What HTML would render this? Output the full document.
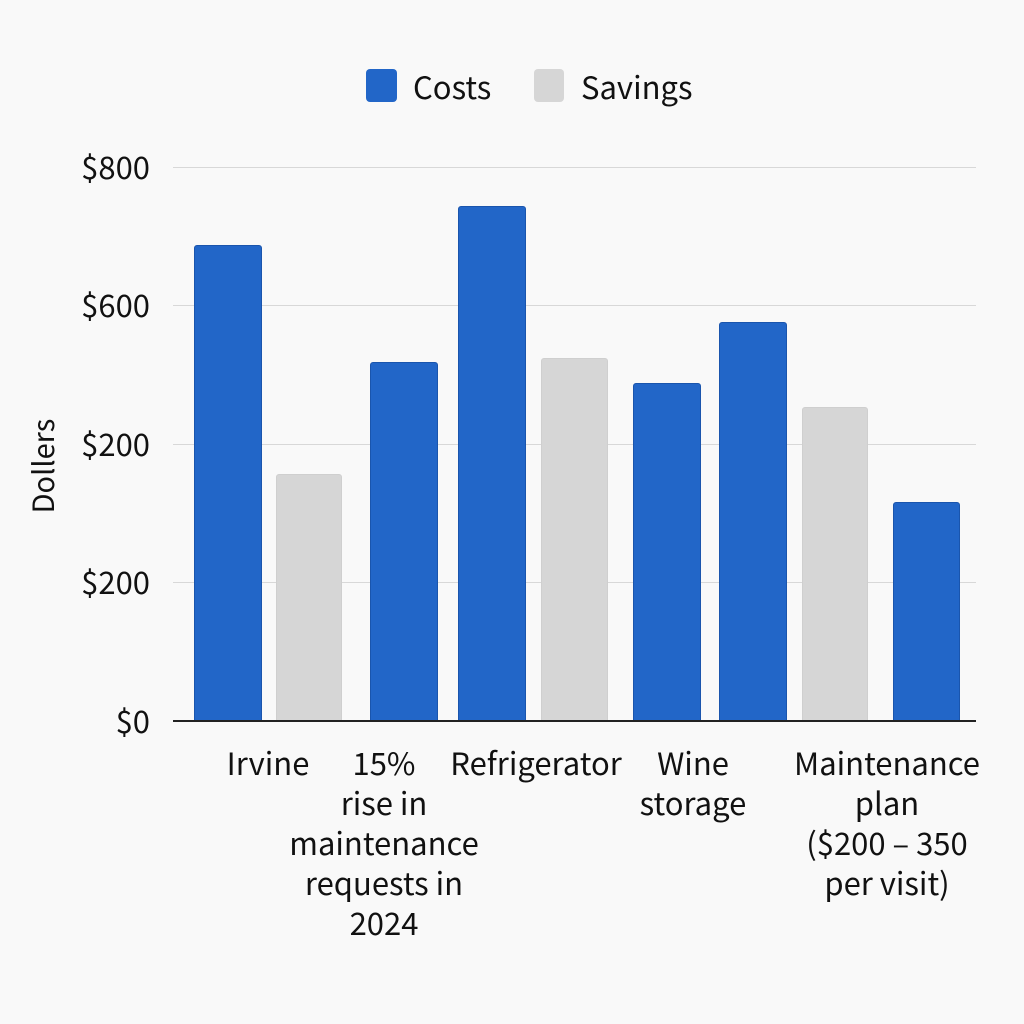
<!DOCTYPE html>
<html><head><meta charset="utf-8"><style>
html,body{margin:0;padding:0;background:#f9f9f9;}
body{width:1024px;height:1024px;position:relative;overflow:hidden;font-family:"Noto Sans CJK JP","Liberation Sans",sans-serif;color:#111;}
.g{position:absolute;left:173px;width:803px;height:1px;background:#d8d8d8;}
.b{position:absolute;box-sizing:border-box;border-radius:3px 3px 0 0;}
.c{background:#2266c8;border:1px solid #1a55ad;}
.s{background:#d6d6d6;border:1px solid #cfcfcf;}
.y{position:absolute;right:874px;font-size:31px;line-height:30px;}
.x{position:absolute;font-size:31px;line-height:40px;text-align:center;width:240px;}
</style></head><body>
<div style="position:absolute;left:366px;top:69px;width:31px;height:33px;background:#2266c8;border-radius:4px;"></div>
<div style="position:absolute;left:413px;top:66px;font-size:31px;line-height:40px;">Costs</div>
<div style="position:absolute;left:534px;top:69px;width:30px;height:33px;background:#d6d6d6;border-radius:4px;"></div>
<div style="position:absolute;left:581px;top:66px;font-size:31px;line-height:40px;">Savings</div>

<div class="g" style="top:167px"></div>
<div class="g" style="top:305px"></div>
<div class="g" style="top:444px"></div>
<div class="g" style="top:582px"></div>

<div class="y" style="top:151px">$800</div>
<div class="y" style="top:289px">$600</div>
<div class="y" style="top:428px">$200</div>
<div class="y" style="top:566px">$200</div>
<div class="y" style="top:705px">$0</div>
<div style="position:absolute;left:42px;top:466px;transform:translate(-50%,-50%) rotate(-90deg);font-size:29px;line-height:30px;white-space:nowrap;">Dollers</div>

<div class="b c" style="left:194px;top:245px;width:68px;height:476px"></div>
<div class="b s" style="left:276px;top:474px;width:66px;height:247px"></div>
<div class="b c" style="left:370px;top:362px;width:68px;height:359px"></div>
<div class="b c" style="left:458px;top:206px;width:68px;height:515px"></div>
<div class="b s" style="left:541px;top:358px;width:67px;height:363px"></div>
<div class="b c" style="left:633px;top:383px;width:68px;height:338px"></div>
<div class="b c" style="left:719px;top:322px;width:68px;height:399px"></div>
<div class="b s" style="left:802px;top:407px;width:66px;height:314px"></div>
<div class="b c" style="left:893px;top:502px;width:67px;height:219px"></div>

<div style="position:absolute;left:173px;top:720px;width:803px;height:2px;background:#222;"></div>

<div class="x" style="left:148px;top:742px">Irvine</div>
<div class="x" style="left:264px;top:742px">15%<br>rise in<br>maintenance<br>requests in<br>2024</div>
<div class="x" style="left:416px;top:742px">Refrigerator</div>
<div class="x" style="left:573px;top:742px">Wine<br>storage</div>
<div class="x" style="left:767px;top:742px">Maintenance<br>plan<br>($200 – 350<br>per visit)</div>
</body></html>
